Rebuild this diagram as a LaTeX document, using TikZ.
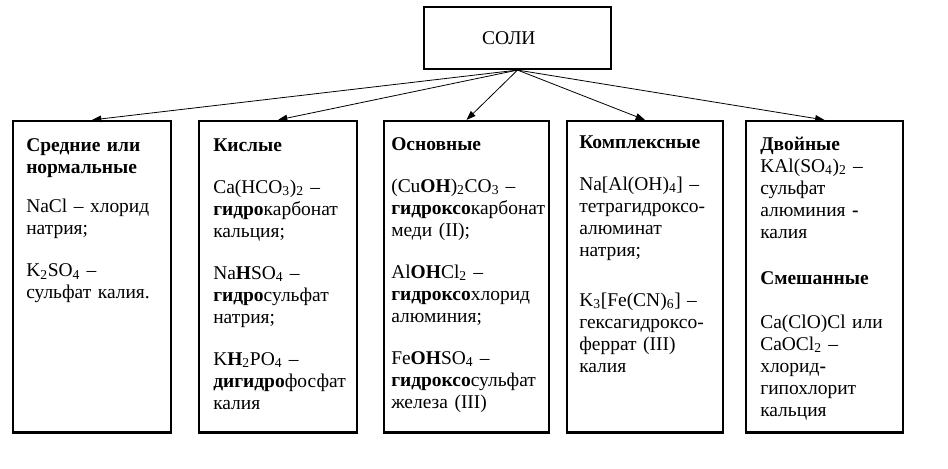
\documentclass[tikz,border=0pt]{standalone}
\usepackage{fontspec}
\setmainfont{Liberation Serif}
\usetikzlibrary{arrows.meta,positioning}

\tikzset{
  saltbox/.style={draw, rectangle, line width=1.6pt, minimum height=233.6pt, inner sep=0pt},
  salttext/.style={anchor=base west, inner sep=0pt, text width=127.5pt, align=left,
    font=\fontsize{14.6}{16.5}\selectfont},
  saltarrow/.style={-{Triangle[length=7pt,width=5pt]}, line width=0.6pt}
}

\begin{document}
\begin{tikzpicture}[x=0.75pt,y=-0.75pt]
\useasboundingbox (0,0) rectangle (948,468);

\node [draw, rectangle, line width=1.6pt, minimum width=140.25pt, minimum height=46.5pt,
  font=\fontsize{14.6}{16.5}\selectfont] (soli) at (517.5,38) {СОЛИ\hspace*{13pt}};

\node [saltbox, minimum width=118.5pt] (sred) at (92,276.75) {};
\node [saltbox, minimum width=118.5pt] (kisl) at (278,276.75) {};
\node [saltbox, minimum width=123.75pt] (osn) at (466.5,276.75) {};
\node [saltbox, minimum width=117pt] (kompl) at (645,276.75) {};
\node [saltbox, minimum width=117.75pt] (dvoin) at (824.5,276.75) {};

\node [salttext] at (26,151) {\textbf{Средние или}\\
\textbf{нормальные}\\[13pt]
NaCl – хлорид\\
натрия;\\[15pt]
K\textsubscript{2}SO\textsubscript{4} –\\
сульфат калия.};

\node [salttext] at (213,151) {\textbf{Кислые}\\[15pt]
Ca(HCO\textsubscript{3})\textsubscript{2} –\\
\textbf{гидро}карбонат\\
кальция;\\[15pt]
Na\textbf{H}SO\textsubscript{4} –\\
\textbf{гидро}сульфат\\
натрия;\\[15pt]
K\textbf{H}\textsubscript{2}PO\textsubscript{4} –\\
\textbf{дигидро}фосфат\\
калия};

\node [salttext] at (391,150) {\textbf{Основные}\\[15pt]
(Cu\textbf{OH})\textsubscript{2}CO\textsubscript{3} –\\
\textbf{гидроксо}карбонат\\
меди (II);\\[15pt]
Al\textbf{OH}Cl\textsubscript{2} –\\
\textbf{гидроксо}хлорид\\
алюминия;\\[15pt]
Fe\textbf{OH}SO\textsubscript{4} –\\
\textbf{гидроксо}сульфат\\
железа (III)};

\node [salttext] at (579,148) {\textbf{Комплексные}\\[15pt]
Na[Al(OH)\textsubscript{4}] –\\
тетрагидроксо-\\
алюминат\\
натрия;\\[21pt]
K\textsubscript{3}[Fe(CN)\textsubscript{6}] –\\
гексагидроксо-\\
феррат (III)\\
калия};

\node [salttext] at (760,150) {\textbf{Двойные}\\
KAl(SO\textsubscript{4})\textsubscript{2} –\\
сульфат\\
алюминия \textbf{-}\\
калия\\[18pt]
\textbf{Смешанные}\\[16.5pt]
Ca(ClO)Cl или\\
CaOCl\textsubscript{2} –\\
хлорид\textbf{-}\\
гипохлорит\\
кальция};

% arrows from the top box
\foreach \b in {sred,kisl,osn,kompl,dvoin}
  \draw [saltarrow] (soli.south) -- (\b.north);

\end{tikzpicture}
\end{document}
